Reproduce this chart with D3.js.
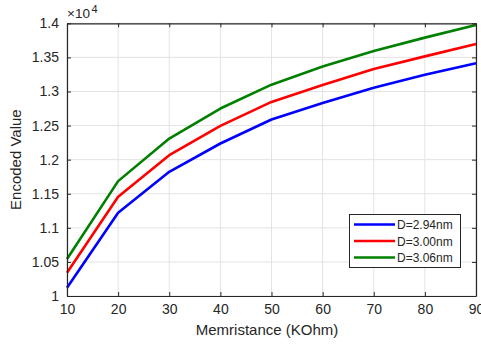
<!DOCTYPE html>
<html><head><meta charset="utf-8">
<script src="https://cdn.jsdelivr.net/npm/d3@7"></script>
<style>body{margin:0;background:#fff}svg{display:block}text{font-family:"Liberation Sans",Arial,sans-serif;fill:#262626}</style>
</head><body>
<svg id="c" width="481" height="345"></svg>
<script>
const xValues = [10, 20, 30, 40, 50, 60, 70, 80, 90];
const seriesNames = ["D=2.94nm", "D=3.00nm", "D=3.06nm"];
const seriesColors = ["#0000ff", "#ff0000", "#008000"];
const blueValues  = [1.0122, 1.1220, 1.1822, 1.2237, 1.2589, 1.2830, 1.3055, 1.3245, 1.3415];
const redValues   = [1.0341, 1.1455, 1.2066, 1.2495, 1.2847, 1.3095, 1.3330, 1.3515, 1.3695];
const greenValues = [1.0542, 1.1685, 1.2310, 1.2750, 1.3100, 1.3365, 1.3595, 1.3790, 1.3975];
const xTicks = [10, 20, 30, 40, 50, 60, 70, 80, 90];
const yTicks = [1, 1.05, 1.1, 1.15, 1.2, 1.25, 1.3, 1.35, 1.4];
const yTickLabels = ["1", "1.05", "1.1", "1.15", "1.2", "1.25", "1.3", "1.35", "1.4"];
const series = [blueValues, redValues, greenValues];

const svg = d3.select("#c");
const L = 67, R = 476, T = 23.3, B = 296;
const x = d3.scaleLinear().domain([10, 90]).range([L, R]);
const y = d3.scaleLinear().domain([1, 1.4]).range([B, T]);
const tickFont = "14px";

// grid
const g = svg.append("g");
g.selectAll(".gx").data(xTicks).join("line")
  .attr("x1", d => x(d)).attr("x2", d => x(d)).attr("y1", T).attr("y2", B)
  .attr("stroke", "#e3e3e3").attr("stroke-width", 1);
g.selectAll(".gy").data(yTicks).join("line")
  .attr("y1", d => y(d)).attr("y2", d => y(d)).attr("x1", L).attr("x2", R)
  .attr("stroke", "#e3e3e3").attr("stroke-width", 1);

// lines
const line = d3.line().x((d, i) => x(xValues[i])).y(d => y(d));
series.forEach((s, k) => {
  svg.append("path").datum(s).attr("d", line).attr("fill", "none")
    .attr("stroke", seriesColors[k]).attr("stroke-width", 2.6).attr("stroke-linejoin", "round");
});

// axes
const axB = d3.axisBottom(x).tickValues(xTicks).tickSizeInner(-4).tickSizeOuter(0).tickPadding(8);
const axT = d3.axisTop(x).tickValues(xTicks).tickSizeInner(-4).tickSizeOuter(0).tickFormat("");
const axL = d3.axisLeft(y).tickValues(yTicks).tickSizeInner(-4).tickSizeOuter(0).tickPadding(8)
  .tickFormat((d, i) => yTickLabels[i]);
const axR = d3.axisRight(y).tickValues(yTicks).tickSizeInner(-4).tickSizeOuter(0).tickFormat("");
function style(sel) {
  sel.selectAll("path").attr("stroke", "#262626").attr("stroke-width", 1.2);
  sel.selectAll("line").attr("stroke", "#262626").attr("stroke-width", 1);
  sel.selectAll("text").attr("font-size", tickFont).attr("fill", "#262626")
     .attr("font-family", "'Liberation Sans', Arial, sans-serif");
}
svg.append("g").attr("transform", `translate(0,${B})`).call(axB).call(style);
svg.append("g").attr("transform", `translate(0,${T})`).call(axT).call(style);
svg.append("g").attr("transform", `translate(${L},0)`).call(axL).call(style);
svg.append("g").attr("transform", `translate(${R},0)`).call(axR).call(style);

// axis labels
svg.append("text").attr("x", 267).attr("y", 335).attr("text-anchor", "middle")
  .attr("font-size", "15px").text("Memristance (KOhm)");
svg.append("text").attr("transform", `translate(21,${(T + B) / 2}) rotate(-90)`)
  .attr("text-anchor", "middle").attr("font-size", "15px").text("Encoded Value");

// exponent
const ex = svg.append("text").attr("x", 67).attr("y", 18).attr("font-size", "13.5px");
ex.append("tspan").text("\u00d710");
ex.append("tspan").attr("dx", 1.5).attr("dy", -5).attr("font-size", "11px").text("4");

// legend
const lg = svg.append("g");
lg.append("rect").attr("x", 349.5).attr("y", 214.5).attr("width", 111).attr("height", 53)
  .attr("fill", "#fff").attr("stroke", "#262626").attr("stroke-width", 1);
const rowY = [224.5, 241, 257.5];
seriesNames.forEach((n, k) => {
  lg.append("line").attr("x1", 354).attr("x2", 395).attr("y1", rowY[k]).attr("y2", rowY[k])
    .attr("stroke", seriesColors[k]).attr("stroke-width", 2.6);
  lg.append("text").attr("x", 397).attr("y", rowY[k] + 4.5).attr("font-size", "12px").text(n);
});
</script>
</body></html>
